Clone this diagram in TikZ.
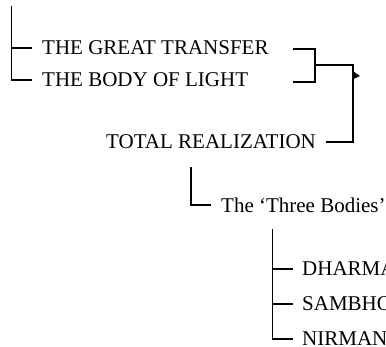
\documentclass[tikz,border=0pt]{standalone}
\usepackage{fontspec}
\setmainfont{Liberation Serif}
\begin{document}
\begin{tikzpicture}[x=1pt,y=-1pt,
  conn/.style={line width=1.3pt, line cap=butt},
  lbl/.style={anchor=west, inner sep=0pt, font=\fontsize{21}{21}\selectfont}]
\useasboundingbox (0,0) rectangle (386,346);
\clip (0,0) rectangle (386,346);
\node[lbl] (gt) at (42,48) {THE GREAT TRANSFER};
\node[lbl] (bl) at (42,80) {THE BODY OF LIGHT};
\node[lbl] (tr) at (106,142) {TOTAL REALIZATION};
\node[lbl] (tb) at (221,205) {The `Three Bodies'};
\node[lbl] (dh) at (302,269) {DHARMAKAYA};
\node[lbl] (sa) at (302,304) {SAMBHOGAKAYA};
\node[lbl] (ni) at (302,339) {NIRMANAKAYA};
% left bracket
\coordinate (top1) at (11.5,6);
\draw[conn] (top1) |- ([xshift=-10pt]bl.west);
\draw[conn] (top1 |- gt.west) -- ([xshift=-10pt]gt.west);
% right bracket
\coordinate (gtR) at (293,49);
\coordinate (blR) at (293,82);
\coordinate (br) at (315,65);
\coordinate (jn) at (353,65);
\draw[conn] (gtR) -| (br |- blR) -- (blR);
\draw[conn] (br) -- (jn) |- ([xshift=10pt]tr.east);
\fill (353.5,71.5) -- (360,76) -- (353.5,79) -- cycle;
% total -> three bodies
\coordinate (top2) at (191,167);
\draw[conn] (top2) |- ([xshift=-10pt]tb.west);
% three bodies -> kayas
\coordinate (top3) at (272.5,229);
\draw[conn] (top3) |- ([xshift=-9pt]ni.west);
\draw[conn] (top3 |- dh.west) -- ([xshift=-9pt]dh.west);
\draw[conn] (top3 |- sa.west) -- ([xshift=-9pt]sa.west);
\end{tikzpicture}
\end{document}
